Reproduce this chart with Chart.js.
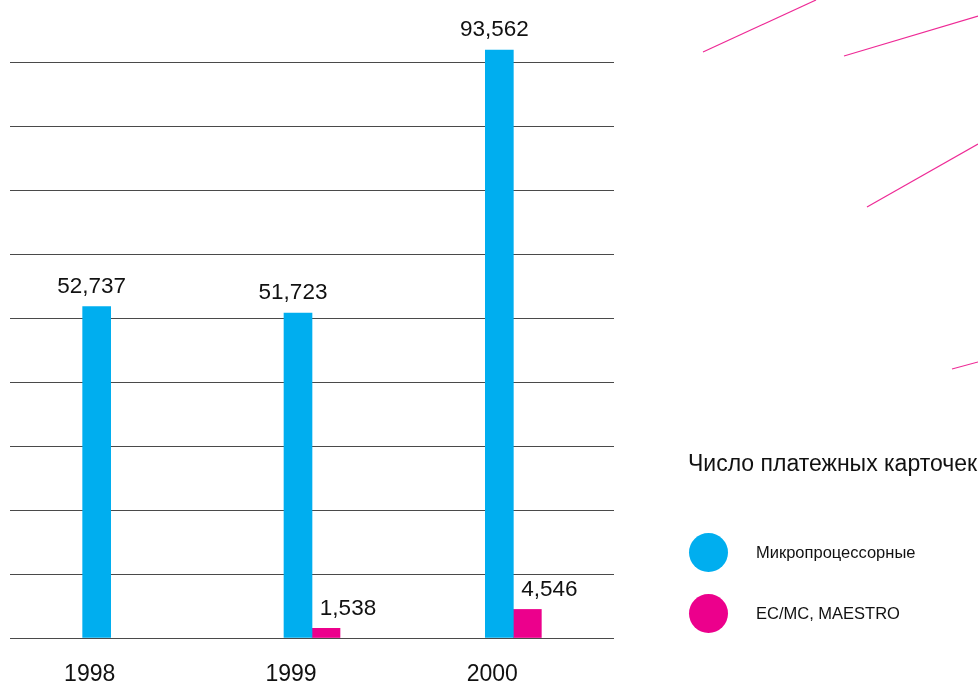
<!doctype html>
<html>

<head>
	<title>Число платежных карточек</title>
	<script src="https://cdn.jsdelivr.net/npm/chart.js@4/dist/chart.umd.min.js"></script>
	<style>
		body {
			margin: 0;
			overflow: hidden;
			background: #fff;
			font-family: 'Liberation Sans', Arial, sans-serif;
		}
		#wrap {
			position: relative;
			width: 978px;
			height: 682px;
		}
		#deco {
			position: absolute;
			left: 0;
			top: 0;
		}
		#legend {
			position: absolute;
			left: 688px;
			top: 450px;
			color: #111;
		}
		#legend .title {
			font-size: 23px;
			white-space: nowrap;
		}
		#legend .item {
			position: absolute;
			left: 1px;
			white-space: nowrap;
			font-size: 16.5px;
			display: flex;
			align-items: center;
		}
		#legend .dot {
			width: 39px;
			height: 39px;
			border-radius: 50%;
			margin-right: 28px;
		}
	</style>
</head>

<body>
	<div id="wrap">
		<canvas id="canvas" width="978" height="682"></canvas>
		<svg id="deco" width="978" height="682">
			<g stroke="#ee2a96" stroke-width="1.2">
				<line x1="703" y1="52" x2="816" y2="0"></line>
				<line x1="844" y1="56" x2="978" y2="16"></line>
				<line x1="867" y1="207" x2="978" y2="144"></line>
				<line x1="952" y1="369" x2="978" y2="362"></line>
			</g>
		</svg>
		<div id="legend"></div>
	</div>
	<script>
		var YEARS = ['1998', '1999', '2000'];
		var MICRO = [52737, 51723, 93562];
		var ECMC = [null, 1538, 4546];
		var SERIES_NAMES = ['Микропроцессорные', 'EC/MC, MAESTRO'];
		var LEGEND_TITLE = 'Число платежных карточек';

		var BLUE = '#00aeef';
		var PINK = '#ec008c';
		var STEP = 10170;

		var valueLabels = {
			id: 'valueLabels',
			afterDatasetsDraw: function(chart) {
				var ctx = chart.ctx;
				var dx = [-5, 22];
				var dy = [14, 13];
				ctx.save();
				ctx.font = '22.5px "Liberation Sans", Arial, sans-serif';
				ctx.fillStyle = '#111';
				ctx.textAlign = 'center';
				ctx.textBaseline = 'alphabetic';
				chart.data.datasets.forEach(function(ds, i) {
					chart.getDatasetMeta(i).data.forEach(function(bar, j) {
						var v = ds.data[j];
						if (v === null) {
							return;
						}
						ctx.fillText(v.toLocaleString('en-US'), bar.x + dx[i], bar.y - dy[i]);
					});
				});
				ctx.restore();
			}
		};

		var data = {
			labels: YEARS,
			datasets: [{
				label: SERIES_NAMES[0],
				data: MICRO,
				backgroundColor: BLUE
			}, {
				label: SERIES_NAMES[1],
				data: ECMC,
				backgroundColor: PINK
			}]
		};

		var config = {
			type: 'bar',
			data: data,
			plugins: [valueLabels],
			options: {
				responsive: false,
				animation: false,
				layout: {
					padding: {left: 10, right: 364, top: 15, bottom: -29}
				},
				datasets: {
					bar: {
						barThickness: 28
					}
				},
				plugins: {
					legend: {display: false},
					tooltip: {enabled: false}
				},
				scales: {
					x: {
						grid: {display: false, drawTicks: false},
						border: {display: false},
						ticks: {
							color: '#111',
							padding: 25,
							labelOffset: -21,
							font: {family: '"Liberation Sans", Arial, sans-serif', size: 23, lineHeight: 1}
						}
					},
					y: {
						min: 0,
						max: 99160,
						border: {display: false},
						grid: {color: '#4a4a4a', lineWidth: 1, drawTicks: false},
						ticks: {display: false},
						afterBuildTicks: function(scale) {
							var ticks = [];
							for (var i = 0; i <= 9; i++) {
								ticks.push({value: i * STEP});
							}
							scale.ticks = ticks;
						}
					}
				}
			}
		};

		window.onload = function() {
			window.myBar = new Chart('canvas', config);

			// legend built from the datasets
			var legend = document.getElementById('legend');
			var title = document.createElement('div');
			title.className = 'title';
			title.textContent = LEGEND_TITLE;
			legend.appendChild(title);
			data.datasets.forEach(function(ds, i) {
				var item = document.createElement('div');
				item.className = 'item';
				item.style.top = (83 + i * 61) + 'px';
				var dot = document.createElement('span');
				dot.className = 'dot';
				dot.style.background = ds.backgroundColor;
				item.appendChild(dot);
				item.appendChild(document.createTextNode(ds.label));
				legend.appendChild(item);
			});
		};
	</script>
</body>

</html>
